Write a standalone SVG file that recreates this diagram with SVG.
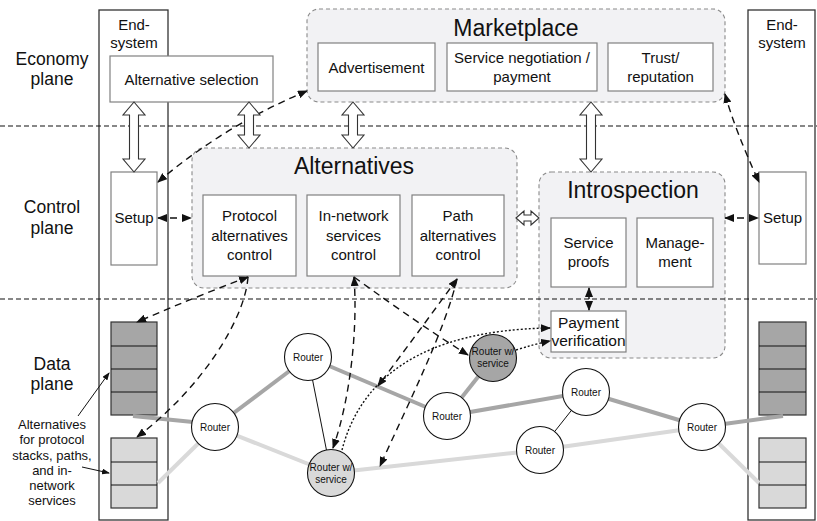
<svg xmlns="http://www.w3.org/2000/svg" width="817" height="521" viewBox="0 0 817 521">
  <style>
    text { font-family: "Liberation Sans", Arial, sans-serif; fill: #111; text-anchor: middle; }
    .plane { font-size: 17.5px; }
    .title { font-size: 23px; }
    .lbl { font-size: 15px; }
    .small { font-size: 13px; }
    .rtr { font-size: 10px; }
    .col { fill: none; stroke: #333; stroke-width: 1.3; }
    .box { fill: #fff; stroke: #808080; stroke-width: 1.2; }
    .grp { fill: #f2f2f4; stroke: #8a8a8a; stroke-width: 1.1; stroke-dasharray: 4 3; }
    .sep { stroke: #111; stroke-width: 1.1; stroke-dasharray: 5 3; fill: none; }
    .hollow { fill: #fff; stroke: #333; stroke-width: 1.1; }
    .dark { fill: #a6a6a6; stroke: #333; stroke-width: 1.2; }
    .light { fill: #d9d9d9; stroke: #333; stroke-width: 1.2; }
    .ldark { stroke: #a6a6a6; stroke-width: 4; fill: none; }
    .llight { stroke: #d9d9d9; stroke-width: 4; fill: none; }
    .lthin { stroke: #111; stroke-width: 1; fill: none; }
    .router { fill: #fff; stroke: #111; stroke-width: 1.1; }
    .dash { fill: none; stroke: #111; stroke-width: 1.4; stroke-dasharray: 7 5; }
    .dot { fill: none; stroke: #111; stroke-width: 1.4; stroke-dasharray: 2 2; }
    .ann { fill: none; stroke: #111; stroke-width: 1; }
  </style>
  <defs>
    <marker id="ah" markerUnits="userSpaceOnUse" markerWidth="10" markerHeight="8" refX="9" refY="4" orient="auto-start-reverse">
      <path d="M0,0 L10,4 L0,8 Z" fill="#111"/>
    </marker>
    <marker id="ahs" markerUnits="userSpaceOnUse" markerWidth="8" markerHeight="6" refX="7" refY="3" orient="auto">
      <path d="M0,0 L8,3 L0,6 Z" fill="#111"/>
    </marker>
  </defs>

  <rect width="817" height="521" fill="#fff"/>

  <!-- plane labels -->
  <g id="plane-labels">
    <text class="plane" x="52" y="65">Economy</text>
    <text class="plane" x="52" y="85">plane</text>
    <text class="plane" x="52" y="213">Control</text>
    <text class="plane" x="52" y="234">plane</text>
    <text class="plane" x="52" y="370">Data</text>
    <text class="plane" x="52" y="390">plane</text>
  </g>

  <!-- end systems -->
  <g id="end-system-left">
    <rect class="col" x="99" y="10" width="69" height="510"/>
    <text class="lbl" x="134" y="30">End-</text>
    <text class="lbl" x="134" y="48">system</text>
  </g>
  <g id="end-system-right">
    <rect class="col" x="748" y="10" width="67" height="510"/>
    <text class="lbl" x="782" y="30">End-</text>
    <text class="lbl" x="782" y="48">system</text>
  </g>

  <g id="alternative-selection">
    <rect class="box" x="110" y="56" width="163" height="46"/>
    <text class="lbl" x="191.5" y="85">Alternative selection</text>
  </g>

  <!-- marketplace -->
  <g id="marketplace">
    <rect class="grp" x="307" y="9" width="418" height="93" rx="12"/>
    <text class="title" x="516" y="36">Marketplace</text>
  </g>
  <g id="advertisement">
    <rect class="box" x="318" y="43" width="117" height="48"/>
    <text class="lbl" x="376.5" y="73">Advertisement</text>
  </g>
  <g id="service-negotiation">
    <rect class="box" x="447" y="43" width="150" height="48"/>
    <text class="lbl" x="522" y="63">Service negotiation /</text>
    <text class="lbl" x="522" y="82">payment</text>
  </g>
  <g id="trust">
    <rect class="box" x="608" y="43" width="105" height="48"/>
    <text class="lbl" x="660.5" y="63">Trust/</text>
    <text class="lbl" x="660.5" y="82">reputation</text>
  </g>

  <!-- alternatives -->
  <g id="alternatives">
    <rect class="grp" x="192" y="148" width="325" height="140" rx="12"/>
    <text class="title" x="354" y="174">Alternatives</text>
  </g>
  <g id="protocol-control">
    <rect class="box" x="203" y="195" width="93" height="81"/>
    <text class="lbl" x="249.5" y="221">Protocol</text>
    <text class="lbl" x="249.5" y="240.5">alternatives</text>
    <text class="lbl" x="249.5" y="260">control</text>
  </g>
  <g id="innetwork-control">
    <rect class="box" x="307" y="195" width="93" height="81"/>
    <text class="lbl" x="353.5" y="221">In-network</text>
    <text class="lbl" x="353.5" y="240.5">services</text>
    <text class="lbl" x="353.5" y="260">control</text>
  </g>
  <g id="path-control">
    <rect class="box" x="412" y="195" width="92" height="81"/>
    <text class="lbl" x="458" y="221">Path</text>
    <text class="lbl" x="458" y="240.5">alternatives</text>
    <text class="lbl" x="458" y="260">control</text>
  </g>

  <!-- introspection -->
  <g id="introspection">
    <rect class="grp" x="539" y="172" width="186" height="186" rx="12"/>
    <text class="title" x="633" y="198">Introspection</text>
  </g>
  <g id="service-proofs">
    <rect class="box" x="551" y="218" width="75" height="69"/>
    <text class="lbl" x="588.5" y="248">Service</text>
    <text class="lbl" x="588.5" y="267">proofs</text>
  </g>
  <g id="management">
    <rect class="box" x="637" y="218" width="76" height="69"/>
    <text class="lbl" x="675" y="248">Manage-</text>
    <text class="lbl" x="675" y="267">ment</text>
  </g>
  <g id="payment-verification">
    <rect class="box" x="551" y="311" width="75" height="41"/>
    <text class="lbl" x="588.5" y="327.5" style="font-size:15.5px">Payment</text>
    <text class="lbl" x="588.5" y="345.5" style="font-size:15.5px">verification</text>
  </g>

  <!-- plane separators, drawn across the group boxes -->
  <g id="separators">
    <line class="sep" x1="0" y1="126" x2="817" y2="126"/>
    <line class="sep" x1="0" y1="299" x2="817" y2="299"/>
  </g>

  <!-- setup boxes -->
  <g id="setup-left">
    <rect class="box" x="111" y="172" width="46" height="93"/>
    <text class="lbl" x="134" y="223">Setup</text>
  </g>
  <g id="setup-right">
    <rect class="box" x="759" y="172" width="47" height="92"/>
    <text class="lbl" x="782.5" y="223">Setup</text>
  </g>

  <!-- protocol stack alternatives -->
  <g id="stack-left-dark">
    <rect class="dark" x="111" y="322" width="46" height="93"/>
    <line class="lthin" x1="111" y1="346" x2="157" y2="346"/>
    <line class="lthin" x1="111" y1="369" x2="157" y2="369"/>
    <line class="lthin" x1="111" y1="392" x2="157" y2="392"/>
  </g>
  <g id="stack-left-light">
    <rect class="light" x="111" y="438" width="46" height="70"/>
    <line class="lthin" x1="111" y1="462" x2="157" y2="462"/>
    <line class="lthin" x1="111" y1="485" x2="157" y2="485"/>
  </g>
  <g id="stack-right-dark">
    <rect class="dark" x="759" y="322" width="47" height="93"/>
    <line class="lthin" x1="759" y1="346" x2="806" y2="346"/>
    <line class="lthin" x1="759" y1="369" x2="806" y2="369"/>
    <line class="lthin" x1="759" y1="392" x2="806" y2="392"/>
  </g>
  <g id="stack-right-light">
    <rect class="light" x="759" y="438" width="47" height="70"/>
    <line class="lthin" x1="759" y1="462" x2="806" y2="462"/>
    <line class="lthin" x1="759" y1="485" x2="806" y2="485"/>
  </g>

  <g id="stack-annotation">
    <text class="small" x="52" y="429">Alternatives</text>
    <text class="small" x="52" y="444">for protocol</text>
    <text class="small" x="52" y="460">stacks, paths,</text>
    <text class="small" x="52" y="475">and in-</text>
    <text class="small" x="52" y="490">network</text>
    <text class="small" x="52" y="505">services</text>
  </g>

  <!-- connectors -->
  <g id="connectors">
    <!-- network links -->
    <line class="ldark" x1="133" y1="416" x2="193" y2="422"/>
    <line class="ldark" x1="215" y1="427" x2="308" y2="357"/>
    <line class="ldark" x1="308" y1="357" x2="447" y2="416"/>
    <line class="ldark" x1="447" y1="416" x2="493" y2="358"/>
    <line class="ldark" x1="447" y1="416" x2="586" y2="392"/>
    <line class="ldark" x1="586" y1="392" x2="702" y2="427"/>
    <line class="ldark" x1="702" y1="427" x2="783" y2="416"/>
    <line class="llight" x1="158" y1="483" x2="215" y2="427"/>
    <line class="llight" x1="215" y1="427" x2="331" y2="473"/>
    <line class="llight" x1="331" y1="473" x2="540" y2="450"/>
    <line class="llight" x1="540" y1="450" x2="702" y2="427"/>
    <line class="llight" x1="702" y1="427" x2="759" y2="483"/>
    <line class="lthin" x1="308" y1="357" x2="331" y2="473"/>
    <line class="lthin" x1="586" y1="392" x2="540" y2="450"/>

    <!-- annotation pointers -->
    <line class="ann" x1="78" y1="416" x2="109" y2="373" marker-end="url(#ahs)"/>
    <line class="ann" x1="82" y1="467" x2="109" y2="473" marker-end="url(#ahs)"/>

    <!-- control relations -->
    <path class="dash" d="M158,182 Q225,125 307,91" marker-start="url(#ah)" marker-end="url(#ah)"/>
    <path class="dash" d="M725,94 Q735,130 759,182" marker-start="url(#ah)" marker-end="url(#ah)"/>
    <path class="dash" d="M158,218 L191,218" marker-start="url(#ah)" marker-end="url(#ah)"/>
    <path class="dash" d="M725,218 L758,218" marker-start="url(#ah)" marker-end="url(#ah)"/>
    <path class="dash" d="M589,288 L589,310" style="stroke-dasharray:4 3" marker-start="url(#ah)" marker-end="url(#ah)"/>

    <path class="dash" d="M248,277 Q195,297 137,322" marker-start="url(#ah)" marker-end="url(#ah)"/>
    <path class="dash" d="M248,277 C245,320 200,390 137,437" marker-end="url(#ah)"/>
    <path class="dash" d="M354,277 C358,330 350,400 333,448" marker-start="url(#ah)" marker-end="url(#ah)"/>
    <path class="dash" d="M354,277 Q420,325 468,355" marker-end="url(#ah)"/>
    <path class="dash" d="M457,279 Q420,330 378,386" marker-start="url(#ah)" marker-end="url(#ah)"/>
    <path class="dash" d="M457,279 C445,330 410,400 380,466" marker-end="url(#ah)"/>

    <!-- payment proofs -->
    <path class="dot" d="M342,450 C360,380 420,330 550,328" marker-end="url(#ah)"/>
    <path class="dot" d="M516,350 Q535,344 550,341" marker-end="url(#ah)"/>

    <!-- hollow interface arrows -->
    <path class="hollow" d="M134,102 L145,115 L138.5,115 L138.5,159 L145,159 L134,172 L123,159 L129.5,159 L129.5,115 L123,115 Z"/>
    <path class="hollow" d="M249,102 L260,115 L253.5,115 L253.5,135 L260,135 L249,148 L238,135 L244.5,135 L244.5,115 L238,115 Z"/>
    <path class="hollow" d="M353,102 L364,115 L357.5,115 L357.5,135 L364,135 L353,148 L342,135 L348.5,135 L348.5,115 L342,115 Z"/>
    <path class="hollow" d="M591,102 L602,115 L595.5,115 L595.5,159 L602,159 L591,172 L580,159 L586.5,159 L586.5,115 L580,115 Z"/>
    <path class="hollow" d="M516,218 L524,211 L524,215 L531,215 L531,211 L539,218 L531,225 L531,221 L524,221 L524,225 Z"/>
  </g>

  <!-- routers -->
  <g id="router-1">
    <circle class="router" cx="215" cy="427" r="23.5"/>
    <text class="rtr" x="215" y="431">Router</text>
  </g>
  <g id="router-2">
    <circle class="router" cx="308" cy="357" r="23.5"/>
    <text class="rtr" x="308" y="361">Router</text>
  </g>
  <g id="router-3">
    <circle class="router" cx="493" cy="358" r="23.5" style="fill:#a6a6a6"/>
    <text class="rtr" x="493" y="355">Router w/</text>
    <text class="rtr" x="493" y="367">service</text>
  </g>
  <g id="router-4">
    <circle class="router" cx="447" cy="416" r="23.5"/>
    <text class="rtr" x="447" y="420">Router</text>
  </g>
  <g id="router-5">
    <circle class="router" cx="331" cy="473" r="23.5" style="fill:#d9d9d9"/>
    <text class="rtr" x="331" y="471">Router w/</text>
    <text class="rtr" x="331" y="483">service</text>
  </g>
  <g id="router-6">
    <circle class="router" cx="540" cy="450" r="23.5"/>
    <text class="rtr" x="540" y="454">Router</text>
  </g>
  <g id="router-7">
    <circle class="router" cx="586" cy="392" r="23.5"/>
    <text class="rtr" x="586" y="396">Router</text>
  </g>
  <g id="router-8">
    <circle class="router" cx="702" cy="427" r="23.5"/>
    <text class="rtr" x="702" y="431">Router</text>
  </g>
</svg>
